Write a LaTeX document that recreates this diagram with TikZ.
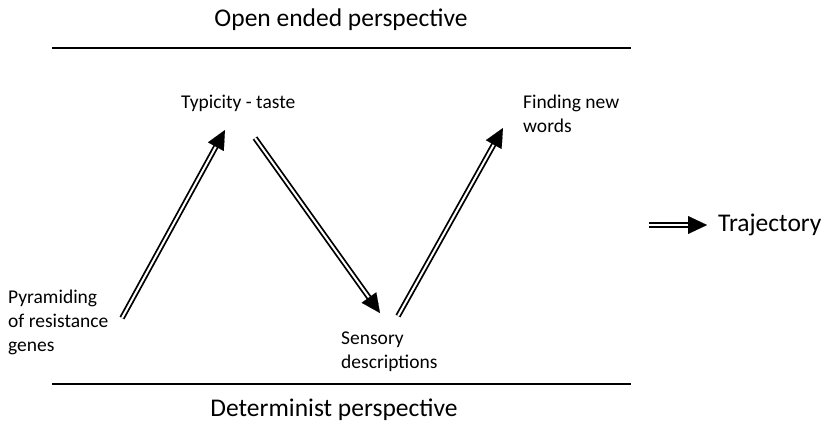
\documentclass[tikz,border=0pt]{standalone}
\usepackage{fontspec}
\setmainfont{Carlito}
\usetikzlibrary{arrows.meta,calc}
\begin{document}
\begin{tikzpicture}[x=1pt,y=-1pt,
  rule/.style={line width=2.6pt},
  big/.style={font=\fontsize{25.5}{30}\selectfont, inner sep=0pt},
  lbl/.style={font=\fontsize{19.5}{24}\selectfont, inner sep=0pt, align=left},
  shaft/.style={double, double distance=2pt, line width=1.8pt},
  head/.style={-{Triangle[length=19pt,width=18pt]}, line width=0.1pt}]
\useasboundingbox (0,0) rectangle (826,424);
\coordinate (tl) at (52,48); \coordinate (tr) at (631,48);
\coordinate (bl) at (52,384); \coordinate (br) at (631,384);
\draw[rule] (tl) -- (tr);
\draw[rule] (bl) -- (br);
\node[big] (open) at (341,20) {Open ended perspective};
\node[big] (det) at (334,410) {Determinist perspective};
\node[lbl, anchor=west] (typ) at (181,103) {Typicity - taste};
\node[lbl, anchor=north west] (find) at (523,95) {Finding new\\words};
\node[lbl, anchor=north west] (pyr) at (8,290) {Pyramiding\\of resistance\\genes};
\node[lbl, anchor=north west] (sens) at (341,332) {Sensory\\descriptions};
\node[big, anchor=west] (traj) at (718,225) {Trajectory};
% arrows
\coordinate (a1s) at (122,318); \coordinate (a1e) at (225,130);
\coordinate (a2s) at (255,138); \coordinate (a2e) at (380,313);
\coordinate (a3s) at (398,316); \coordinate (a3e) at (503,128);
\coordinate (a4s) at (649,225); \coordinate (a4e) at (707,225);
\foreach \s/\e in {a1s/a1e,a2s/a2e,a3s/a3e,a4s/a4e}{
  \draw[shaft] (\s) -- ($(\e)!16pt!(\s)$);
  \draw[head] ($(\e)!19pt!(\s)$) -- (\e);
}
\end{tikzpicture}
\end{document}
